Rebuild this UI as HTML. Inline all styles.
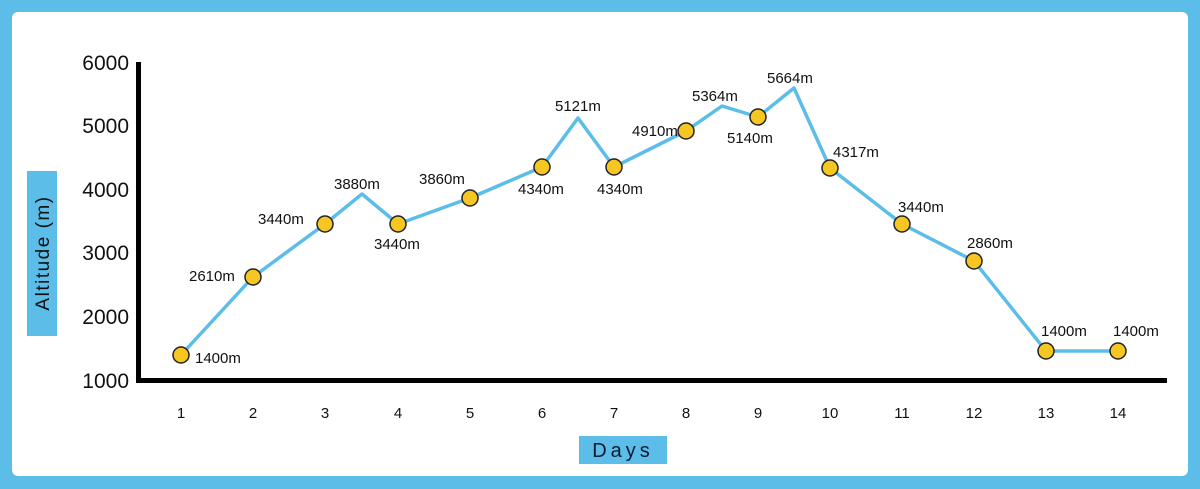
<!DOCTYPE html>
<html><head><meta charset="utf-8"><style>
html,body{margin:0;padding:0;background:#5bbde8;}
svg{display:block}
text{font-family:"Liberation Sans",sans-serif;fill:#111}
</style></head><body>
<svg width="1200" height="489" viewBox="0 0 1200 489">
<rect x="0" y="0" width="1200" height="489" fill="#5bbde8"/>
<rect x="12" y="12" width="1176" height="464" rx="6" fill="#fff"/>
<line x1="138.5" y1="62" x2="138.5" y2="383" stroke="#000" stroke-width="5"/>
<line x1="136" y1="380.5" x2="1167" y2="380.5" stroke="#000" stroke-width="5"/>
<g font-size="21" text-anchor="end">
<text x="129" y="70">6000</text><text x="129" y="133">5000</text><text x="129" y="197">4000</text>
<text x="129" y="260">3000</text><text x="129" y="324">2000</text><text x="129" y="388">1000</text>
</g>
<rect x="27" y="171" width="30" height="165" fill="#5bbde8"/>
<text transform="translate(49,253) rotate(-90)" text-anchor="middle" font-size="19" letter-spacing="1.5">Altitude (m)</text>
<rect x="579" y="436" width="88" height="28" fill="#5bbde8"/>
<text x="623" y="457" text-anchor="middle" font-size="20" letter-spacing="4" style="fill:#0d1a33">Days</text>
<g font-size="15" text-anchor="middle">
<text x="181" y="418">1</text><text x="253" y="418">2</text><text x="325" y="418">3</text><text x="398" y="418">4</text>
<text x="470" y="418">5</text><text x="542" y="418">6</text><text x="614" y="418">7</text><text x="686" y="418">8</text>
<text x="758" y="418">9</text><text x="830" y="418">10</text><text x="902" y="418">11</text><text x="974" y="418">12</text>
<text x="1046" y="418">13</text><text x="1118" y="418">14</text>
</g>
<polyline fill="none" stroke="#5bbde8" stroke-width="3.5" stroke-linejoin="round" points="181,355 253,277 325,224 362,194 398,224 470,198 542,167 578,118 614,167 686,131 722,106 758,117 794,88 830,168 902,224 974,261 1046,351 1118,351"/>
<g fill="#f6c623" stroke="#222" stroke-width="1.5">
<circle cx="181" cy="355" r="8"/><circle cx="253" cy="277" r="8"/><circle cx="325" cy="224" r="8"/><circle cx="398" cy="224" r="8"/>
<circle cx="470" cy="198" r="8"/><circle cx="542" cy="167" r="8"/><circle cx="614" cy="167" r="8"/><circle cx="686" cy="131" r="8"/>
<circle cx="758" cy="117" r="8"/><circle cx="830" cy="168" r="8"/><circle cx="902" cy="224" r="8"/><circle cx="974" cy="261" r="8"/>
<circle cx="1046" cy="351" r="8"/><circle cx="1118" cy="351" r="8"/>
</g>
<g font-size="15">
<text x="195" y="363">1400m</text>
<text x="189" y="281">2610m</text>
<text x="258" y="224">3440m</text>
<text x="334" y="189">3880m</text>
<text x="374" y="249">3440m</text>
<text x="419" y="184">3860m</text>
<text x="518" y="194">4340m</text>
<text x="555" y="111">5121m</text>
<text x="597" y="194">4340m</text>
<text x="632" y="136">4910m</text>
<text x="692" y="101">5364m</text>
<text x="727" y="143">5140m</text>
<text x="767" y="83">5664m</text>
<text x="833" y="157">4317m</text>
<text x="898" y="212">3440m</text>
<text x="967" y="248">2860m</text>
<text x="1041" y="336">1400m</text>
<text x="1113" y="336">1400m</text>
</g>
</svg>
</body></html>
